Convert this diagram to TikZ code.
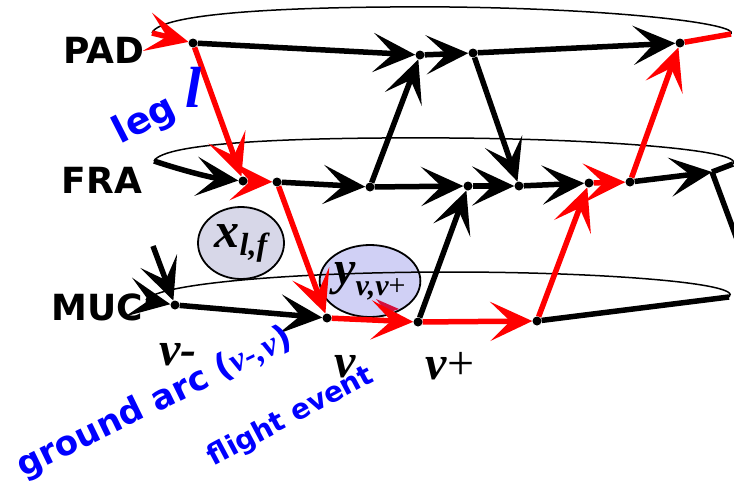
\documentclass[tikz,border=0pt]{standalone}
\usepackage{fontspec}
\setmainfont{DejaVu Sans}
\newfontfamily\tms{Liberation Serif}
\usetikzlibrary{arrows.meta,shapes.geometric}
\definecolor{varfill}{HTML}{D7D7E8}
\definecolor{varblue}{HTML}{D0D0F5}
\definecolor{pathred}{HTML}{FF0000}
\definecolor{labelblue}{HTML}{0000FF}
\definecolor{tipred}{HTML}{D4103C}

\begin{document}
\begin{tikzpicture}[
    x=1pt, y=-1pt,
    ev/.style={circle, minimum size=9pt, inner sep=0pt},
    back/.style={line width=1.5pt},
    gnd/.style={line width=5.5pt, -{Stealth[length=42pt,width=39pt,inset=20pt]}},
    flat/.style={line width=5.5pt},
    hot/.style={pathred},
    stn/.style={font=\fontsize{36}{38}\selectfont\bfseries, inner sep=0pt},
    vlab/.style={font=\tms\fontsize{48}{50}\selectfont\bfseries\itshape, inner sep=0pt},
    note/.style={font=\fontsize{34}{36}\selectfont\bfseries, text=labelblue, inner sep=0pt},
    dv/.style={ellipse, draw, line width=1.8pt, minimum width=86pt, minimum height=72pt,
               inner sep=0pt, font=\tms\bfseries\itshape}
]
\useasboundingbox (0,0) rectangle (734,485);
\clip (0,0) rectangle (734,485);

% --- decision variables (behind the network) ---
\node[dv, fill=varfill] (xlf) at (241,243)
    {{\fontsize{50}{50}\selectfont x}\raisebox{-8pt}{\fontsize{32}{32}\selectfont l,f}};
\node[dv, fill=varblue] (yvv) at (370,281)
    {{\fontsize{48}{48}\selectfont y}\raisebox{-11pt}{\fontsize{30}{30}\selectfont v,v{\upshape\mdseries+}}};
\fill[tipred] (376,299) -- (387,313) -- (399,309) -- cycle;

% --- stations ---
\node[stn] (pad) at (104,50)  {PAD};
\node[stn] (fra) at (102,180) {FRA};
\node[stn] (muc) at (97,307)  {MUC};

% --- events ---
\coordinate (pL) at (152,33);
\node[ev] (p1) at (193,43) {};
\node[ev] (p2) at (420,55) {};
\node[ev] (p3) at (473,53) {};
\node[ev] (p4) at (680,43) {};
\coordinate (pR) at (731,34);

\coordinate (fL) at (154,161);
\node[ev] (f1) at (243,181) {};
\node[ev] (f2) at (277,182) {};
\node[ev] (f3) at (370,187) {};
\node[ev] (f4) at (468,186) {};
\node[ev] (f5) at (519,186) {};
\node[ev] (f6) at (589,183) {};
\node[ev] (f7) at (630,182) {};
\coordinate (f8) at (712,172);
\coordinate (fR) at (733,164);
\coordinate (fOut) at (738,242);

\coordinate (mL) at (146,300);
\coordinate (mIn) at (153,246);
\node[ev] (m1) at (175,305) {};
\node[ev] (m2) at (327,318) {};
\node[ev] (m3) at (418,322) {};
\node[ev] (m4) at (537,321) {};
\coordinate (mR) at (729,297);

% --- back of the rings ---
\draw[back] (pL) .. controls (160,12) and (300,6) .. (450,7) .. controls (620,9) and (740,24) .. (pR);
\draw[back] (fL) .. controls (164,142) and (300,137) .. (450,138) .. controls (600,139) and (745,150) .. (fR);
\draw[back] (mL) .. controls (158,283) and (300,272) .. (450,272) .. controls (600,272) and (745,283) .. (mR);

% --- ground arcs ---
\draw[gnd, hot] (pL) -- (p1);
\draw[gnd] (p1) -- (p2);
\draw[gnd] (p2) -- (p3);
\draw[gnd] (p3) -- (p4);
\draw[flat, hot] (p4) -- (pR);

\draw[gnd] (fL) .. controls (184,171) and (213,178) .. (f1);
\draw[gnd, hot] (f1) -- (f2);
\draw[gnd] (f2) -- (f3);
\draw[gnd] (f3) -- (f4);
\draw[gnd] (f4) -- (f5);
\draw[gnd] (f5) -- (f6);
\draw[gnd, hot] (f6) -- (f7);
\draw[gnd] (f7) -- (f8);
\draw[flat] (f8) -- (fR);

\draw[gnd] (mL) -- (m1);
\draw[gnd] (m1) -- (m2);
\draw[gnd, hot] (m2) -- (m3);
\draw[gnd, hot] (m3) -- (m4);
\draw[flat] (m4) -- (mR);

% --- flights ---
\draw[gnd, hot] (p1) -- (f1);
\draw[gnd] (f3) -- (p2);
\draw[gnd] (p3) -- (f5);
\draw[gnd, hot] (f7) -- (p4);
\draw[gnd, hot] (f2) -- (m2);
\draw[gnd] (m3) -- (f4);
\draw[gnd, hot] (m4) -- (f6);
\draw[flat] (f8) -- (fOut);
\draw[gnd] (mIn) -- (m1);

\foreach \e in {p1,p2,p3,p4,f1,f2,f3,f4,f5,f6,f7,m1,m2,m3,m4}
    \fill (\e) circle (4.5pt);

% --- labels ---
\node[vlab] (vminus) at (178,355) {v-};
\node[vlab] (vnow)   at (345,367) {v};
\node[vlab] (vplus)  at (450,366) {v{\upshape\mdseries+}};

\node[note, font=\fontsize{37}{39}\selectfont\bfseries, rotate=27] (leg) at (145,121) {leg};
\node[vlab, text=labelblue, font=\tms\fontsize{58}{58}\selectfont\bfseries\itshape] (legvar) at (194,87) {l};
\node[note, rotate=26] (garc) at (155,403)
    {ground arc ({\tms\itshape v-,v})};
\node[note, font=\fontsize{28}{30}\selectfont\bfseries, rotate=28] (fev) at (291,417)
    {flight event};
\end{tikzpicture}
\end{document}
